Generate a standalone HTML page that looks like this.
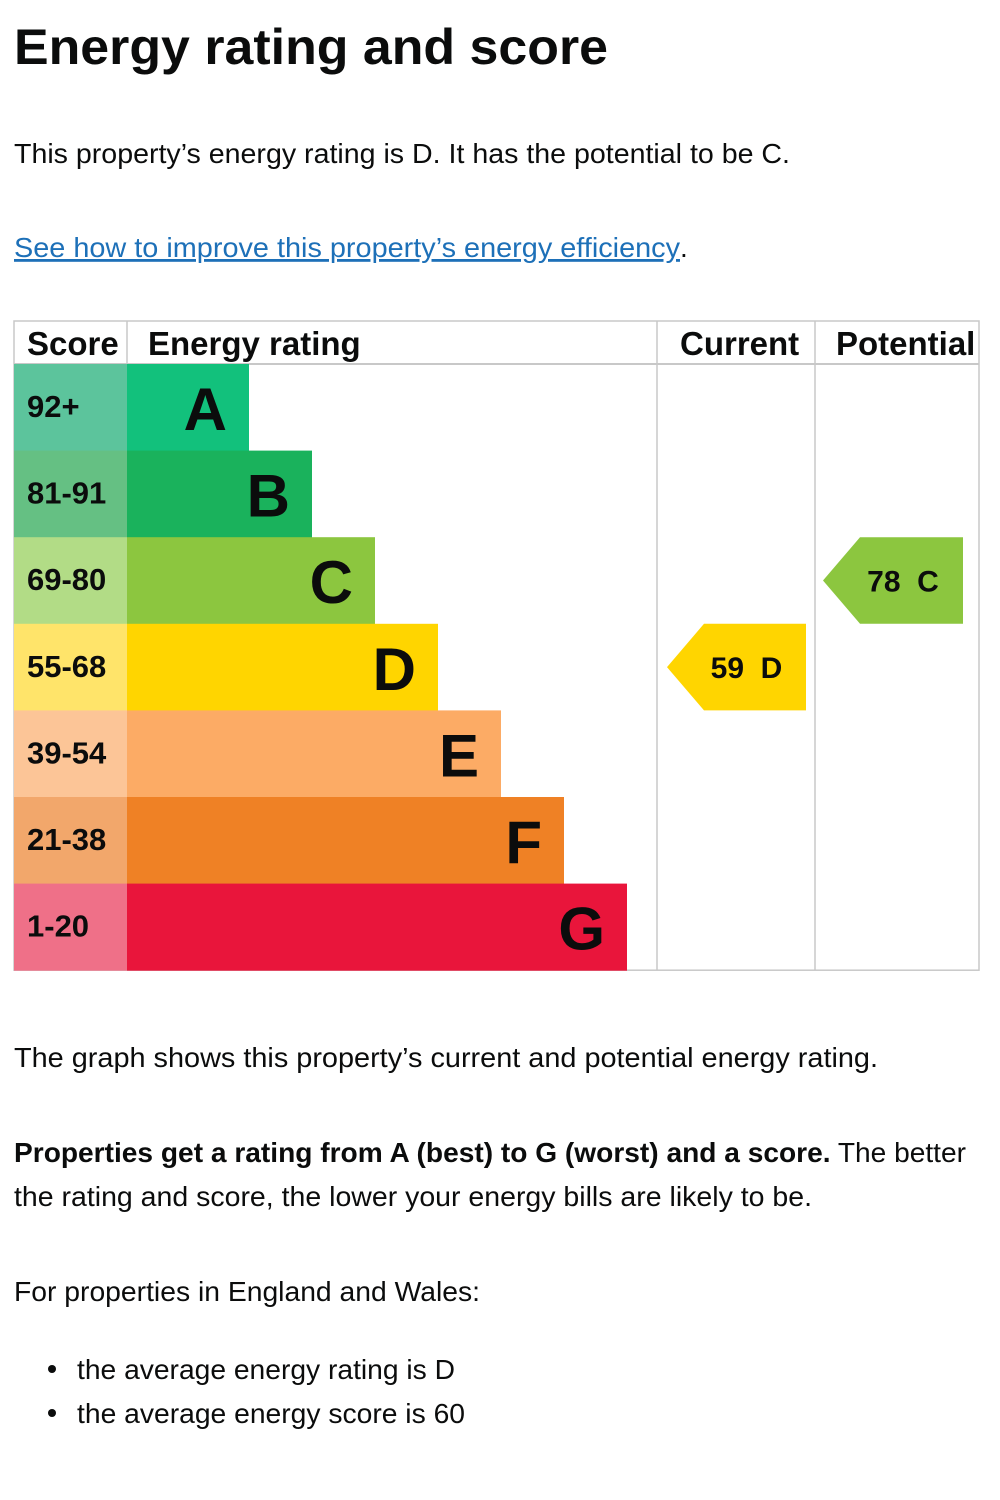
<!DOCTYPE html>
<html><head><meta charset="utf-8"><style>
html,body{margin:0;padding:0;background:#fff;}
svg{display:block;font-family:"Liberation Sans",Arial,sans-serif;}
</style></head><body>
<svg id="page" width="1000" height="1500" viewBox="0 0 1000 1500" xmlns="http://www.w3.org/2000/svg">
<text x="14" y="64" font-size="50" font-weight="bold" fill="#0b0c0c" textLength="594" lengthAdjust="spacingAndGlyphs">Energy rating and score</text>
<text x="14" y="163" font-size="28" fill="#0b0c0c" textLength="776" lengthAdjust="spacingAndGlyphs">This property’s energy rating is D. It has the potential to be C.</text>
<text x="14" y="257" font-size="28" fill="#1d70b8" text-decoration="underline" textLength="666" lengthAdjust="spacingAndGlyphs">See how to improve this property’s energy efficiency</text>
<text x="680" y="257" font-size="28" fill="#0b0c0c">.</text>
<g id="chart"></g>
<text x="14" y="1067" font-size="28" fill="#0b0c0c" textLength="864" lengthAdjust="spacingAndGlyphs">The graph shows this property’s current and potential energy rating.</text>
<text x="14" y="1162" font-size="28" fill="#0b0c0c" textLength="952" lengthAdjust="spacingAndGlyphs"><tspan font-weight="bold">Properties get a rating from A (best) to G (worst) and a score.</tspan> The better</text>
<text x="14" y="1206" font-size="28" fill="#0b0c0c" textLength="798" lengthAdjust="spacingAndGlyphs">the rating and score, the lower your energy bills are likely to be.</text>
<text x="14" y="1301" font-size="28" fill="#0b0c0c" textLength="466" lengthAdjust="spacingAndGlyphs">For properties in England and Wales:</text>
<circle cx="52" cy="1369" r="4" fill="#0b0c0c"/>
<text x="77" y="1379" font-size="28" fill="#0b0c0c" textLength="378" lengthAdjust="spacingAndGlyphs">the average energy rating is D</text>
<circle cx="52" cy="1413" r="4" fill="#0b0c0c"/>
<text x="77" y="1423" font-size="28" fill="#0b0c0c" textLength="388" lengthAdjust="spacingAndGlyphs">the average energy score is 60</text>
</svg>
<script>
const bands = ['A','B','C','D','E','F','G'];
const ranges = ['92+','81-91','69-80','55-68','39-54','21-38','1-20'];
const bandMin = [92,81,69,55,39,21,1];
const currentScore = 59;
const potentialScore = 78;
const barColors = ['#12c17c','#1ab25c','#8cc63f','#ffd500','#fcab65','#ef8125','#e9153b'];
const cellColors = ['#5cc49c','#65c083','#b2dc86','#ffe46a','#fcc597','#f2a76b','#ef7088'];

const NS='http://www.w3.org/2000/svg';
const g=document.getElementById('chart');
const L=14,R=979,T=321,H=364,rowH=86.6,scoreW=127,barBase=249,barStep=63,curX=657,potX=815;
const rowY=i=>H+i*rowH;
function mk(tag,attrs,parent){const e=document.createElementNS(NS,tag);for(const k in attrs)e.setAttribute(k,attrs[k]);(parent||g).appendChild(e);return e;}
function band(score){for(let i=0;i<bandMin.length;i++){if(score>=bandMin[i])return i;}return bandMin.length-1;}
const bottom=rowY(bands.length);
// grid
let f=mk('rect',{x:L,y:T,width:R-L,height:bottom-T,fill:'none',stroke:'#c8c8c8','stroke-width':1.5});


let l1=mk('line',{x1:L,y1:H,x2:R,y2:H,stroke:'#c8c8c8','stroke-width':2});


let l2=mk('line',{x1:scoreW,y1:T,x2:scoreW,y2:H,stroke:'#c8c8c8','stroke-width':1.5});


[curX,potX].forEach((x,k)=>{const ln=mk('line',{x1:x,y1:T,x2:x,y2:bottom,stroke:'#c8c8c8','stroke-width':1.5});

});
const heads=[['Score',27,'header-score'],['Energy rating',148,'header-energy-rating'],['Current',680,'header-current'],['Potential',836,'header-potential']];
heads.forEach(h=>{const t=mk('text',{x:h[1],y:355,'font-size':33,'font-weight':'bold',fill:'#0b0c0c'});t.textContent=h[0];

});
bands.forEach((b,i)=>{
  const y=rowY(i);
  const c=mk('rect',{x:L,y:y,width:scoreW-L,height:rowH+0.5,fill:cellColors[i]});
  
  
  const r=mk('rect',{x:scoreW,y:y,width:barBase+i*barStep-scoreW,height:rowH+0.5,fill:barColors[i]});
  
  
  const st=mk('text',{x:27,y:y+53,'font-size':31,'font-weight':'bold',fill:'#0b0c0c'});st.textContent=ranges[i];
  
  
  const bt=mk('text',{x:barBase+i*barStep-22,y:y+66,'font-size':60,'font-weight':'bold','text-anchor':'end',fill:'#0b0c0c'});bt.textContent=b;
  
  
});
function arrow(score,x0,x1,name){
  const i=band(score),y=rowY(i),h=rowH;
  const p=mk('polygon',{points:`${x0},${y+h/2} ${x0+37},${y} ${x1},${y} ${x1},${y+h} ${x0+37},${y+h}`,fill:barColors[i]});
  
  
  const t=mk('text',{x:(x0+x1)/2+10,y:y+h/2+11,'font-size':30,'font-weight':'bold','text-anchor':'middle',fill:'#0b0c0c'});
  t.textContent=score+'\u00a0 '+bands[i];
  
  
}
arrow(currentScore,667,806,'current-rating');
arrow(potentialScore,823,963,'potential-rating');
</script>
</body></html>
